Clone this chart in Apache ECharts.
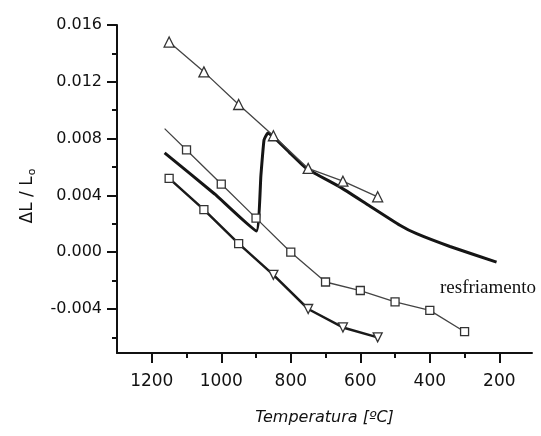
<!DOCTYPE html>
<html>
<head>
<meta charset="utf-8">
<script src="https://cdn.jsdelivr.net/npm/echarts@6/dist/echarts.min.js"></script>
<style>
  html, body { margin: 0; padding: 0; background: #fff; }
  #chart { width: 541px; height: 436px; }
</style>
</head>
<body>
<div id="chart"></div>
<script>
// temperatures in ºC, dL/L0
const triTemp = [1150, 1050, 950, 850, 750, 650, 550];
const triVal = [0.0148, 0.0127, 0.0104, 0.0082, 0.0059, 0.0050, 0.0039];

const sqTemp = [1163, 1100, 1000, 900, 800, 700, 600, 500, 400, 300];
const sqVal = [0.0087, 0.0072, 0.0048, 0.0024, 0.0000, -0.0021, -0.0027, -0.0035, -0.0041, -0.0056];

const lowTemp = [1150, 1050, 950, 850, 750, 650, 550];
const lowVal = [0.0052, 0.0030, 0.0006, -0.0016, -0.0040, -0.0053, -0.0060];

const thickTemp = [1163, 1019, 899, 886, 877, 866, 849, 803, 755, 659, 582, 486, 438, 342, 208];
const thickVal = [0.0070, 0.0041, 0.0015, 0.0054, 0.0079, 0.0084, 0.0081, 0.0070, 0.0059, 0.0046, 0.0034, 0.0019, 0.0013, 0.0004, -0.0007];

const xMajor = [1200, 1000, 800, 600, 400, 200];
const xMinor = [1100, 900, 700, 500, 300];
const yMajor = [-0.004, 0.000, 0.004, 0.008, 0.012, 0.016];
const yMinor = [-0.006, -0.002, 0.002, 0.006, 0.010, 0.014];

const pairs = (xs, ys) => xs.map((x, i) => [x, ys[i]]);

const chart = echarts.init(document.getElementById('chart'));

const axisFont = { fontFamily: 'DejaVu Sans', color: '#111' };
const xBase = { type: 'value', inverse: true, min: 106, max: 1300, gridIndex: 0, position: 'bottom', splitLine: { show: false } };
const yBase = { type: 'value', min: -0.0071, max: 0.016, gridIndex: 0, position: 'left', splitLine: { show: false } };

const sqData = pairs(sqTemp, sqVal).map((p, i) => i === 0 ? { value: p, symbol: 'none' } : p);
const lowData = pairs(lowTemp, lowVal).map((p, i) =>
  i < 3 ? p : { value: p, symbol: 'triangle', symbolRotate: 180, symbolSize: 9 });

const option = {
  backgroundColor: '#fff',
  animation: false,
  grid: { left: 117, right: 9, top: 25, bottom: 83 },
  xAxis: [
    Object.assign({}, xBase, {
      name: 'Temperatura [ºC]',
      nameLocation: 'middle',
      nameGap: 57,
      nameTextStyle: { fontFamily: 'DejaVu Sans', fontStyle: 'italic', fontSize: 16, color: '#111' },
      axisLine: { onZero: false, lineStyle: { color: '#111', width: 2 } },
      axisTick: { customValues: xMajor, length: 10, lineStyle: { color: '#111', width: 2 } },
      axisLabel: Object.assign({ customValues: xMajor, fontSize: 17, margin: 20, formatter: v => String(v) }, axisFont)
    }),
    Object.assign({}, xBase, {
      axisLine: { show: false, onZero: false },
      axisTick: { customValues: xMinor, length: 5, lineStyle: { color: '#111', width: 2 } },
      axisLabel: { show: false }
    })
  ],
  yAxis: [
    Object.assign({}, yBase, {
      name: '{t|ΔL / L}{s|o}',
      nameLocation: 'middle',
      nameRotate: 90,
      nameGap: 79,
      nameTextStyle: {
        padding: [0, 14, 0, 0],
        rich: {
          t: { fontFamily: 'DejaVu Sans', fontSize: 17, color: '#111' },
          s: { fontFamily: 'DejaVu Sans', fontSize: 11, color: '#111', padding: [10, 0, 0, 1] }
        }
      },
      axisLine: { onZero: false, lineStyle: { color: '#111', width: 2 } },
      axisTick: { customValues: yMajor, length: 10, lineStyle: { color: '#111', width: 2 } },
      axisLabel: Object.assign({
        customValues: yMajor, fontSize: 16, margin: 15,
        formatter: v => v.toFixed(3)
      }, axisFont)
    }),
    Object.assign({}, yBase, {
      axisLine: { show: false, onZero: false },
      axisTick: { customValues: yMinor, length: 5, lineStyle: { color: '#111', width: 2 } },
      axisLabel: { show: false }
    })
  ],
  graphic: [{
    type: 'text',
    left: 440,
    top: 279,
    style: { text: 'resfriamento', font: '19px "Liberation Serif"', fill: '#111' }
  }],
  series: [
    {
      type: 'line', name: 'thick', data: pairs(thickTemp, thickVal),
      showSymbol: false, smooth: 0.12,
      lineStyle: { color: '#151515', width: 3 }, z: 3
    },
    {
      type: 'line', name: 'triangles', data: pairs(triTemp, triVal),
      symbol: 'triangle', symbolSize: 10,
      lineStyle: { color: '#444', width: 1.3 },
      itemStyle: { color: '#fff', borderColor: '#333', borderWidth: 1.3 }, z: 4
    },
    {
      type: 'line', name: 'squares', data: sqData,
      symbol: 'rect', symbolSize: 8,
      lineStyle: { color: '#444', width: 1.3 },
      itemStyle: { color: '#fff', borderColor: '#333', borderWidth: 1.3 }, z: 4
    },
    {
      type: 'line', name: 'lower', data: lowData,
      symbol: 'rect', symbolSize: 8,
      lineStyle: { color: '#1a1a1a', width: 2.5 },
      itemStyle: { color: '#fff', borderColor: '#333', borderWidth: 1.3 }, z: 4
    }
  ]
};
chart.setOption(option);
</script>
</body>
</html>
